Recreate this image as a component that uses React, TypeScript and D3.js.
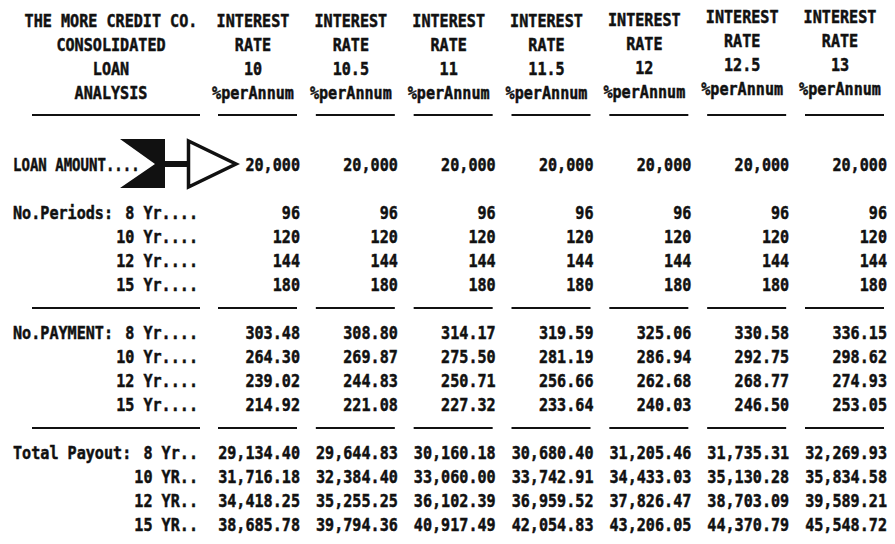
import React from "react";
import * as d3 from "d3";

// ---------- data ----------
const rates = ["10", "10.5", "11", "11.5", "12", "12.5", "13"];
const loanAmounts = [20000, 20000, 20000, 20000, 20000, 20000, 20000];
const periodsPerTerm = [96, 120, 144, 180];
const periodLabels = ["8 Yr....", "10 Yr....", "12 Yr....", "15 Yr...."];
const paymentLabels = ["8 Yr....", "10 Yr....", "12 Yr....", "15 Yr...."];
const payoutLabels = ["8 Yr..", "10 YR..", "12 YR..", "15 YR.."];
const payments = [
  [303.48, 308.8, 314.17, 319.59, 325.06, 330.58, 336.15],
  [264.3, 269.87, 275.5, 281.19, 286.94, 292.75, 298.62],
  [239.02, 244.83, 250.71, 256.66, 262.68, 268.77, 274.93],
  [214.92, 221.08, 227.32, 233.64, 240.03, 246.5, 253.05],
];
const payouts = [
  [29134.4, 29644.83, 30160.18, 30680.4, 31205.46, 31735.31, 32269.93],
  [31716.18, 32384.4, 33060.0, 33742.91, 34433.03, 35130.28, 35834.58],
  [34418.25, 35255.25, 36102.39, 36959.52, 37826.47, 38703.09, 39589.21],
  [38685.78, 39794.36, 40917.49, 42054.83, 43206.05, 44370.79, 45548.72],
];
const titleLines = ["THE MORE CREDIT CO.", "CONSOLIDATED", "LOAN", "ANALYSIS"];
const headerTop = ["INTEREST", "RATE"];
const headerUnit = "%perAnnum";
const sectionLabels = ["LOAN AMOUNT....", "No.Periods:", "No.PAYMENT:", "Total Payout:"];

// ---------- layout ----------
const W = 895;
const H = 544;
const FONT = "'DejaVu Sans Mono', monospace";
const FS = 18;
const SX = 0.84;
const CAP = 6.5;
const headerShift = [0, 0, 0, 0, -1, -4, -4];

const x = d3.scalePoint<string>().domain(rates).range([300, 887]);
const row = d3.scaleLinear().domain([0, 21]).range([20, 524]);

const fmtInt = d3.format(",d");
const fmt2 = d3.format(",.2f");
const fmtPlain2 = d3.format(".2f");

function T({
  x: tx,
  y: ty,
  anchor = "start",
  sx = SX,
  children,
}: {
  x: number;
  y: number;
  anchor?: "start" | "middle" | "end";
  sx?: number;
  children: React.ReactNode;
}) {
  return (
    <text
      transform={`translate(${tx},${ty + CAP}) scale(${sx},1)`}
      textAnchor={anchor}
      fontFamily={FONT}
      fontWeight="bold"
      fontSize={FS}
      fill="#111"
      stroke="#111"
      strokeWidth={0.5}
    >
      {children}
    </text>
  );
}

export default function App() {
  const titleCx = 111;
  const labelRight = 198;
  const colLine = (r: string) => [x(r)! - 82, x(r)! - 3];

  const rules = (k: number) => (
    <g>
      <line x1={32} x2={200} y1={row(k)} y2={row(k)} stroke="#111" strokeWidth={2} />
      {rates.map((r) => {
        const [a, b] = colLine(r);
        return <line key={r} x1={a} x2={b} y1={row(k)} y2={row(k)} stroke="#111" strokeWidth={2} />;
      })}
    </g>
  );

  const yLoan = row(6);

  return (
    <svg width={W} height={H} style={{ position: "absolute", left: 0, top: 0, background: "#fff" }}>
      <rect width={W} height={H} fill="#fff" />
      {/* title block */}
      {titleLines.map((t, i) => (
        <T key={t} x={titleCx} y={row(i)} anchor="middle">
          {t}
        </T>
      ))}
      {/* column headers */}
      {rates.map((r, c) => {
        const cx = x(r)! - 47;
        const sh = headerShift[c];
        return (
          <g key={r}>
            <T x={cx} y={row(0) + sh} anchor="middle">{headerTop[0]}</T>
            <T x={cx} y={row(1) + sh} anchor="middle">{headerTop[1]}</T>
            <T x={cx} y={row(2) + sh} anchor="middle">{r}</T>
            <T x={cx} y={row(3) + sh} anchor="middle">{headerUnit}</T>
          </g>
        );
      })}
      {rules(3.96)}

      {/* loan amount */}
      <T x={13} y={yLoan} sx={0.78}>{sectionLabels[0]}</T>
      <polygon
        points={[
          [120, yLoan - 25],
          [165, yLoan - 25],
          [165, yLoan + 24],
          [120, yLoan + 24],
          [155, yLoan],
        ]
          .map((p) => p.join(","))
          .join(" ")}
        fill="#111"
      />
      <rect x={164} y={yLoan - 3} width={24} height={6} fill="#111" />
      <polygon
        points={[
          [188.5, yLoan - 23],
          [188.5, yLoan + 23],
          [236, yLoan],
        ]
          .map((p) => p.join(","))
          .join(" ")}
        fill="#fff"
        stroke="#111"
        strokeWidth={3.5}
        strokeLinejoin="miter"
      />
      {rates.map((r, c) => (
        <T key={r} x={x(r)!} y={yLoan} anchor="end">
          {fmtInt(loanAmounts[c])}
        </T>
      ))}

      {/* periods */}
      <T x={13} y={row(8)}>{sectionLabels[1]}</T>
      {periodsPerTerm.map((p, i) => (
        <g key={"p" + i}>
          <T x={labelRight} y={row(8 + i)} anchor="end">{periodLabels[i]}</T>
          {rates.map((r) => (
            <T key={r} x={x(r)!} y={row(8 + i)} anchor="end">
              {fmtInt(p)}
            </T>
          ))}
        </g>
      ))}
      {rules(12)}

      {/* payments */}
      <T x={13} y={row(13)}>{sectionLabels[2]}</T>
      {payments.map((vals, i) => (
        <g key={"m" + i}>
          <T x={labelRight} y={row(13 + i)} anchor="end">{paymentLabels[i]}</T>
          {rates.map((r, c) => (
            <T key={r} x={x(r)!} y={row(13 + i)} anchor="end">
              {fmtPlain2(vals[c])}
            </T>
          ))}
        </g>
      ))}
      {rules(17)}

      {/* payouts */}
      <T x={13} y={row(18)}>{sectionLabels[3]}</T>
      {payouts.map((vals, i) => (
        <g key={"t" + i}>
          <T x={labelRight} y={row(18 + i)} anchor="end">{payoutLabels[i]}</T>
          {rates.map((r, c) => (
            <T key={r} x={x(r)!} y={row(18 + i)} anchor="end">
              {fmt2(vals[c])}
            </T>
          ))}
        </g>
      ))}
    </svg>
  );
}
